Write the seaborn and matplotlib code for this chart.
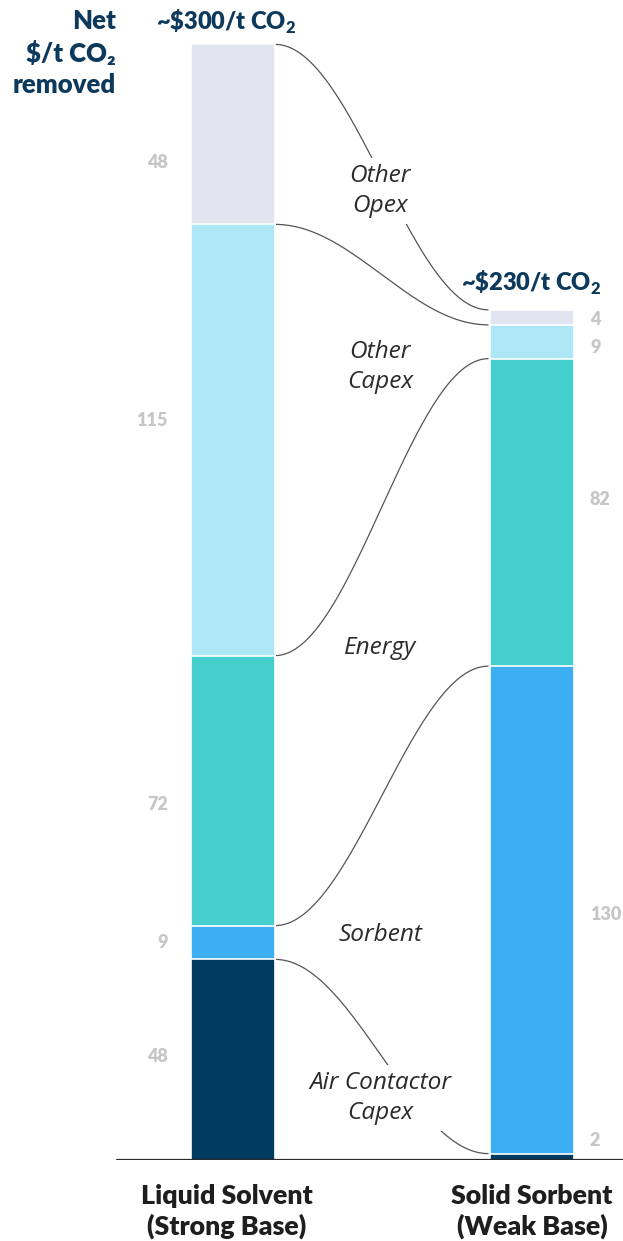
import matplotlib
matplotlib.use("Agg")
import matplotlib.pyplot as plt
import numpy as np
import pandas as pd
import seaborn as sns

# ---------------- data ----------------
categories = ["Liquid Solvent\n(Strong Base)", "Solid Sorbent\n(Weak Base)"]
components = ["Air Contactor Capex", "Sorbent", "Energy", "Other Capex", "Other Opex"]
liquid_values = [53.5, 9, 72, 115, 48]
solid_values = [1.7, 130, 82, 9, 4]
liquid_labels = ["48", "9", "72", "115", "48"]
solid_labels = ["2", "130", "82", "9", "4"]
totals = ["~\\$300/t CO$_\\mathbf{2}$", "~\\$230/t CO$_\\mathbf{2}$"]
component_names = ["Air Contactor\nCapex", "Sorbent", "Energy", "Other\nCapex", "Other\nOpex"]
colors = ["#003b62", "#3daef1", "#45cfcc", "#ade7f5", "#e1e5f0"]

sns.set_theme(style="white")
plt.rcParams["font.family"] = ["Lato", "DejaVu Sans"]
plt.rcParams["mathtext.fontset"] = "custom"
plt.rcParams["mathtext.rm"] = "Lato"
plt.rcParams["mathtext.bf"] = "Lato:weight=heavy"

W, H = 623, 1241
fig = plt.figure(figsize=(W / 100, H / 100), dpi=100)
ax = fig.add_axes([0, 81 / H, 1, 1160 / H])

PX_PER_UNIT = 3.75
X0, DX = 233, 299  # pixel centre of first bar, pixel distance between bars


def px_x(px):
    return (px - X0) / DX


def px_y(py):
    return (1160 - py) / PX_PER_UNIT


cum_l = np.cumsum(liquid_values)
cum_r = np.cumsum(solid_values)

# stacked bars (draw from the top of the stack downward)
bar_w = 84 / DX
for i in range(len(components) - 1, -1, -1):
    df = pd.DataFrame({"category": categories, "cum": [cum_l[i], cum_r[i]]})
    sns.barplot(data=df, x="category", y="cum", order=categories, color=colors[i],
                saturation=1, width=bar_w, edgecolor="white", linewidth=1.2,
                errorbar=None, ax=ax, zorder=2)

# connector curves between the tops of matching segments
xl, xr = 0 + bar_w / 2, 1 - bar_w / 2 - 0.005
t = np.linspace(0, 1, 200)
for i in range(len(components)):
    y0, y1 = cum_l[i], cum_r[i]
    ys = y0 + (y1 - y0) * (1 - np.cos(np.pi * t)) / 2
    xs = xl + (xr - xl) * t
    ax.plot(xs, ys, color="#555555", lw=0.9, zorder=1, solid_capstyle="butt")

# component labels with white boxes interrupting curves
label_py = [1098, 935, 648, 367, 191]
for name, py in zip(component_names, label_py):
    ax.text(px_x(380), px_y(py), name, ha="center", va="center", fontsize=17.6,
            style="italic", family=["Open Sans", "DejaVu Sans"], color="#2b2b2b",
            linespacing=1.36, zorder=3,
            bbox=dict(boxstyle="square,pad=0.25", fc="white", ec="none"))

# value labels
gray = "#c6c6c6"
left_py = [1057, 942, 805, 421, 162]
right_py = [1140, 915, 500, 348, 320]
for i in range(len(components)):
    ax.text(px_x(168), px_y(left_py[i]), liquid_labels[i], ha="right", va="center",
            fontsize=13, fontweight="heavy", color=gray)
    ax.text(px_x(590), px_y(right_py[i]), solid_labels[i], ha="left", va="center",
            fontsize=13, fontweight="heavy", color=gray)

# totals above bars
navy = "#0d3a5c"
ax.text(px_x(226), px_y(30), totals[0], ha="center", va="baseline",
        fontsize=17, fontweight="heavy", color=navy)
ax.text(px_x(531), px_y(291), totals[1], ha="center", va="baseline",
        fontsize=17, fontweight="heavy", color=navy)

# y-axis header
ax.text(px_x(116), px_y(9), "Net\n$/t CO₂\nremoved", ha="right", va="top",
        fontsize=18.5, fontweight="heavy", color=navy, linespacing=1.37,
        family=["Lato", "DejaVu Sans"], parse_math=False)

# category labels below axis
cat_px = [227, 532]
for cx, cat in zip(cat_px, categories):
    ax.text(px_x(cx), px_y(1184), cat, ha="center", va="top",
            fontsize=19.3, fontweight="heavy", color="#1e1e1e", linespacing=1.28)

# baseline
ax.axhline(0, xmin=117 / W, xmax=1, color="#2b2b2b", lw=1.6, zorder=4)

ax.set_xlim(px_x(0), px_x(W))
ax.set_ylim(0, 1160 / PX_PER_UNIT)
ax.axis("off")

fig.savefig("out.png", dpi=100)
